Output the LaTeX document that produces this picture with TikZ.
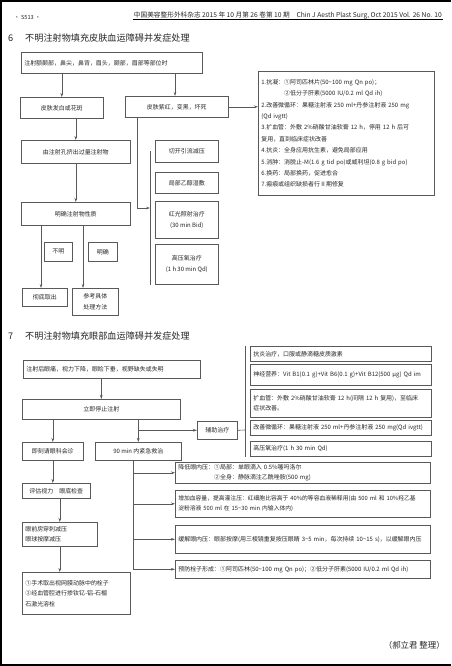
\documentclass[tikz,border=0pt]{standalone}
\usepackage{fontspec}
\setmainfont{Noto Sans CJK SC}
\usetikzlibrary{arrows.meta}
\newcommand{\bxfont}{\fontsize{17}{30}\selectfont}
\newcommand{\lsfont}{\fontsize{17}{32.5}\selectfont}
\newcommand{\hdfont}{\fontsize{26}{30}\selectfont}
\newcommand{\sm}{\textasciitilde}

\begin{document}
\begin{tikzpicture}[x=1mm,y=-1mm,>={Stealth[length=4mm,width=2.6mm]},
  every node/.style={text=black!85},
  box/.style={draw=black!65,line width=0.6mm,inner sep=0pt,anchor=north west,align=center,font=\bxfont},
  lbox/.style={box,align=left,inner xsep=3mm},
  link/.style={draw=black!65,line width=0.6mm},
  arr/.style={link,->}]
\useasboundingbox (0,0) rectangle (451,666);
% page frame and header
\draw[line width=2mm] (451,1) -- (1,1) -- (1,665) -- (451,665);
\node[anchor=west,font=\fontsize{16}{18}\selectfont] (page) at (13,17) {· S513 ·};
\node[anchor=east,font=\fontsize{19}{22}\selectfont] (jour) at (443,16) {中国美容整形外科杂志 2015 年 10 月第 26 卷第 10 期\quad Chin J Aesth Plast Surg, Oct 2015 Vol. 26 No. 10};
\draw[line width=0.3mm] ([yshift=-1.2mm]jour.base west) -- ([yshift=-1.2mm]jour.base east);

% section 6
\node[anchor=west,font=\hdfont] (num6) at (7,38) {6};
\node[anchor=west,font=\hdfont] (sec6) at (24,38) {不明注射物填充皮肤血运障碍并发症处理};
\node[lbox,text width=175mm,minimum height=21mm] (ask) at (21,52) {注射额颞部，鼻尖，鼻背，眉头，颞部，眉部等部位时};
\node[box,minimum width=83mm,minimum height=21mm] (pale) at (20,97) {皮肤发白或花斑};
\node[box,minimum width=103mm,minimum height=21mm] (necro) at (125,96) {皮肤紫红，变黑，坏死};
\node[lbox,font=\lsfont,text width=170mm,minimum height=124mm] (treat) at (258,71) {1.抗凝：①阿司匹林片(50\sm100 mg Qn po)；\\
\phantom{1.抗凝：}②低分子肝素(5000 IU/0.2 ml Qd ih)\\
2.改善微循环：果糖注射液 250 ml+丹参注射液 250 mg\\
(Qd ivgtt)\\
3.扩血管：外敷 2\%硝酸甘油软膏 12 h，停用 12 h 后可\\
复用，直到临床症状改善\\
4.抗炎：全身应用抗生素，避免局部应用\\
5.消肿：消脱止-M(1.6 g tid po)或威利坦(0.8 g bid po)\\
6.换药：局部换药，促进愈合\\
7.瘢痕或组织缺损者行Ⅱ期修复};
\node[box,minimum width=109mm,minimum height=23mm] (squeeze) at (21,140) {由注射孔挤出过量注射物};
\node[box,minimum width=63mm,minimum height=22mm] (incise) at (155,140) {切开引流减压};
\node[box,minimum width=63mm,minimum height=21mm] (wet) at (155,172) {局部乙醇湿敷};
\node[box,minimum width=63mm,minimum height=37mm] (redlight) at (155,201) {红光照射治疗\\(30 min Bid)};
\node[box,minimum width=63mm,minimum height=40mm] (hbo) at (155,244) {高压氧治疗\\(1 h 30 min Qd)};
\node[box,minimum width=109mm,minimum height=23mm] (identify) at (21,202) {明确注射物性质};
\node[box,minimum width=28mm,minimum height=19mm] (unknown) at (44,242) {不明};
\node[box,minimum width=29mm,minimum height=19mm] (known) at (88,242) {明确};
\node[box,minimum width=45mm,minimum height=18mm] (remove) at (22,288) {彻底取出};
\node[box,minimum width=46mm,minimum height=27mm] (refer) at (72,288) {参考具体\\处理方法};

\draw[arr] (pale.north |- ask.south) -- (pale.north);
\draw[arr] ([xshift=50mm]necro.north west |- ask.south) -- ([xshift=50mm]necro.north west);
\draw[arr] (necro.east) -- (necro.east -| treat.west);
\draw[arr] (squeeze.north |- pale.south) -- (squeeze.north);
\draw[arr] (identify.north |- squeeze.south) -- (identify.north);
\coordinate (bk6) at (150,208);
\draw[arr] ([xshift=12mm]necro.south west) |- (bk6);
\draw[link] (bk6 |- incise.west) -- (bk6 |- hbo.south);
\draw[arr] ([xshift=19mm]remove.north west |- identify.south) -- ([xshift=19mm]remove.north west);
\draw[arr] ([xshift=11mm]refer.north west |- identify.south) -- ([xshift=11mm]refer.north west);

% section 7
\node[anchor=west,font=\hdfont] (num7) at (7,336) {7};
\node[anchor=west,font=\hdfont] (sec7) at (24,336) {不明注射物填充眼部血运障碍并发症处理};
\node[lbox,text width=171mm,minimum height=18mm] (sym) at (23,360) {注射后眼痛，视力下降，眼睑下垂，视野缺失或失明};
\node[box,minimum width=158mm,minimum height=20mm] (stop) at (22,399) {立即停止注射};
\node[box,minimum width=61mm,minimum height=18mm] (consult) at (22,442) {即刻请眼科会诊};
\node[box,minimum width=86mm,minimum height=18mm] (rescue) at (95,442) {90 min 内紧急救治};
\node[box,minimum width=40mm,minimum height=18mm] (aux) at (197,421) {辅助治疗};
\node[lbox,text width=175mm,minimum height=15mm] (r1) at (250,346) {抗炎治疗，口服或静滴糖皮质激素};
\node[lbox,text width=175mm,minimum height=21mm] (r2) at (250,364) {神经营养：Vit B1(0.1 g)+Vit B6(0.1 g)+Vit B12(500 μg) Qd im};
\node[lbox,text width=175mm,minimum height=28mm] (r3) at (250,389) {扩血管：外敷 2\%硝酸甘油软膏 12 h(间隔 12 h 复用)，至临床\\症状改善。};
\node[lbox,text width=175mm,minimum height=15mm] (r4) at (250,420) {改善微循环：果糖注射液 250 ml+丹参注射液 250 mg(Qd ivgtt)};
\node[lbox,text width=175mm,minimum height=15mm] (r5) at (250,441) {高压氧治疗(1 h 30 min Qd)};
\node[box,minimum width=68mm,minimum height=15mm] (evaluate) at (22,483) {评估视力\quad 眼底检查};
\node[lbox,text width=69mm,minimum height=24mm] (press) at (22,522) {眼前房穿刺减压\\眼球按摩减压};
\node[lbox,text width=102mm,minimum height=42mm] (surgery) at (22,572) {①手术取出视网膜动脉中的栓子\\②经血管腔进行掺钕钇-铝-石榴\\石激光溶栓};
\node[lbox,text width=249mm,minimum height=21mm] (t1) at (175,462) {降低眼内压：①局部：单眼滴入 0.5\%噻吗洛尔\\\phantom{降低眼内压：}②全身：静脉滴注乙酰唑胺(500 mg)};
\node[lbox,font=\fontsize{16.5}{30}\selectfont,text width=249mm,minimum height=27mm] (t2) at (175,490) {增加血容量，提高灌注压：红细胞比容高于 40\%的等容血液稀释用(由 500 ml 和 10\%羟乙基\\淀粉溶液 500 ml 在 15\sm30 min 内输入体内)};
\node[lbox,text width=249mm,minimum height=28mm] (t3) at (175,525) {缓解眼内压：眼部按摩(用三棱镜重复按压眼睛 3\sm5 min，每次持续 10\sm15 s)，以缓解眼内压};
\node[lbox,text width=249mm,minimum height=18mm] (t4) at (175,560) {预防栓子形成：①阿司匹林(50\sm100 mg Qn po)；②低分子肝素(5000 IU/0.2 ml Qd ih)};

\draw[arr] (stop.north |- sym.south) -- (stop.north);
\draw[arr] (consult.north |- stop.south) -- (consult.north);
\draw[arr] (rescue.north |- stop.south) -- (rescue.north);
\draw[arr] (rescue.north |- aux.west) -- (aux.west);
\coordinate (bk7) at (245,430);
\draw[link] (aux.east) -- (bk7);
\draw[link] (bk7 |- r1.north) -- (bk7 |- r5.south);
\draw[arr] (consult.south) -- (consult.south |- evaluate.north);
\draw[arr] (press.north |- evaluate.south) -- (press.north);
\draw[arr] (press.south) -- (press.south |- surgery.north);
\coordinate (trunk) at ([xshift=-5mm]rescue.south);
\draw[link] (trunk) -- (trunk |- t4.west);
\foreach \t in {t1,t2,t3,t4}
  \draw[arr] (trunk |- \t.west) -- (\t.west);

\node[anchor=east,font=\fontsize{24}{26}\selectfont] (editor) at (446,645) {（郝立君\ 整理）};
\end{tikzpicture}
\end{document}
